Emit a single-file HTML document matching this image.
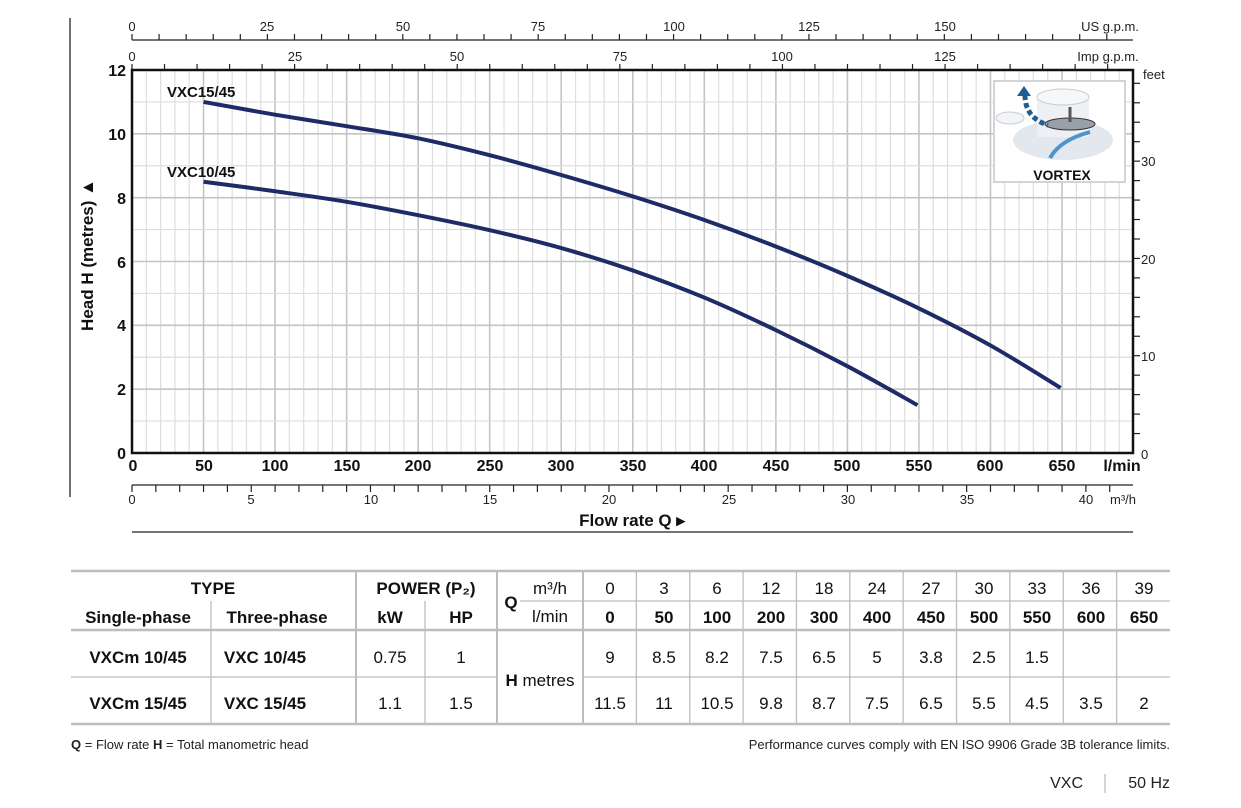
<!DOCTYPE html>
<html><head><meta charset="utf-8"><style>
html,body{margin:0;padding:0;background:#fff;}
svg{display:block;font-family:"Liberation Sans",sans-serif;}
</style></head><body>
<svg id="s" width="1241" height="808" viewBox="0 0 1241 808" xmlns="http://www.w3.org/2000/svg">
<g id="grid"></g>
<g id="ticks" stroke="#222" stroke-width="1.2"></g>
<rect x="132" y="70" width="1001" height="383" fill="none" stroke="#111" stroke-width="2.5"/>
<line x1="70" y1="18" x2="70" y2="497" stroke="#222" stroke-width="1.3"/>
<line x1="132" y1="40" x2="1133" y2="40" stroke="#222" stroke-width="1.2"/>
<line x1="132" y1="485" x2="1133" y2="485" stroke="#222" stroke-width="1.2"/>
<line x1="132" y1="532" x2="1133" y2="532" stroke="#222" stroke-width="1.3"/>
<rect x="994" y="81" width="131" height="101" fill="#fff" stroke="#d4d4d4" stroke-width="2"/>
<ellipse cx="1063" cy="140" rx="50" ry="20" fill="#e3e8ee"/>
<rect x="1037" y="97" width="52" height="40" fill="#edf1f5"/>
<ellipse cx="1063" cy="97" rx="26" ry="8" fill="#f5f7f9" stroke="#c8ced6"/>
<ellipse cx="1010" cy="118" rx="14" ry="6" fill="#f2f4f7" stroke="#c8ced6"/>
<ellipse cx="1070" cy="124" rx="25" ry="6" fill="#9aa0a8" stroke="#333"/>
<line x1="1070" y1="107" x2="1070" y2="122" stroke="#555" stroke-width="3"/>
<path d="M1050 158 Q1060 140 1090 132" fill="none" stroke="#4b94cc" stroke-width="4"/>
<path d="M1025 95 Q1025 118 1048 125" fill="none" stroke="#1d5d92" stroke-width="5" stroke-dasharray="5 3"/>
<path d="M1017 96 L1024 86 L1031 96 Z" fill="#1d5d92"/>
<text x="1062" y="180" text-anchor="middle" font-weight="bold" font-size="14" fill="#111">VORTEX</text>
<path id="c1" fill="none" stroke="#1e2b66" stroke-width="4"/>
<path id="c2" fill="none" stroke="#1e2b66" stroke-width="4"/>
<g font-weight="bold" font-size="15" fill="#111">
<text x="167" y="97">VXC15/45</text>
<text x="167" y="177">VXC10/45</text>
</g>
<g font-weight="bold" font-size="16" fill="#111" text-anchor="end">
<text x="126" y="76">12</text><text x="126" y="140">10</text><text x="126" y="204">8</text>
<text x="126" y="268">6</text><text x="126" y="331">4</text><text x="126" y="395">2</text><text x="126" y="459">0</text>
</g>
<text transform="translate(93,255) rotate(-90)" text-anchor="middle" font-weight="bold" font-size="17" fill="#111">Head H (metres) ▲</text>
<g font-weight="bold" font-size="16" fill="#111" text-anchor="middle">
<text x="133" y="471">0</text><text x="204" y="471">50</text><text x="275" y="471">100</text>
<text x="347" y="471">150</text><text x="418" y="471">200</text><text x="490" y="471">250</text>
<text x="561" y="471">300</text><text x="633" y="471">350</text><text x="704" y="471">400</text>
<text x="776" y="471">450</text><text x="847" y="471">500</text><text x="919" y="471">550</text>
<text x="990" y="471">600</text><text x="1062" y="471">650</text><text x="1122" y="471">l/min</text>
</g>
<g font-size="13" fill="#222" text-anchor="middle">
<text x="132" y="504">0</text><text x="251" y="504">5</text><text x="371" y="504">10</text>
<text x="490" y="504">15</text><text x="609" y="504">20</text><text x="729" y="504">25</text>
<text x="848" y="504">30</text><text x="967" y="504">35</text><text x="1086" y="504">40</text>
<text x="1123" y="504">m³/h</text>
</g>
<text x="632" y="526" text-anchor="middle" font-weight="bold" font-size="17" fill="#111">Flow rate Q ▸</text>
<g font-size="13" fill="#222" text-anchor="middle">
<text x="132" y="31">0</text><text x="267" y="31">25</text><text x="403" y="31">50</text>
<text x="538" y="31">75</text><text x="674" y="31">100</text><text x="809" y="31">125</text>
<text x="945" y="31">150</text><text x="1110" y="31">US g.p.m.</text>
<text x="132" y="61">0</text><text x="295" y="61">25</text><text x="457" y="61">50</text>
<text x="620" y="61">75</text><text x="782" y="61">100</text><text x="945" y="61">125</text>
<text x="1108" y="61">Imp g.p.m.</text>
<text x="1143" y="79" text-anchor="start">feet</text>
</g>
<g font-size="13" fill="#222">
<text x="1141" y="459">0</text><text x="1141" y="361">10</text><text x="1141" y="264">20</text><text x="1141" y="166">30</text>
</g>
<g stroke="#bdbdbd" stroke-width="1.3">
<line x1="71" y1="571" x2="1170" y2="571" stroke-width="2.5"/>
<line x1="71" y1="630" x2="1170" y2="630" stroke-width="2.5"/>
<line x1="71" y1="677" x2="497" y2="677"/>
<line x1="583" y1="677" x2="1170" y2="677"/>
<line x1="71" y1="724" x2="1170" y2="724" stroke-width="2.5"/>
<line x1="520" y1="601" x2="1170" y2="601"/>
<line x1="356" y1="571" x2="356" y2="724" stroke-width="2"/>
<line x1="497" y1="571" x2="497" y2="724" stroke-width="2"/>
<line x1="211" y1="601" x2="211" y2="724"/>
<line x1="425" y1="601" x2="425" y2="724"/>
<g id="cols"></g>
</g>
<g font-size="17" fill="#111" text-anchor="middle">
<text x="213" y="594" font-weight="bold">TYPE</text>
<text x="426" y="594" font-weight="bold">POWER (P₂)</text>
<text x="138" y="623" font-weight="bold">Single-phase</text>
<text x="277" y="623" font-weight="bold">Three-phase</text>
<text x="390" y="623" font-weight="bold">kW</text>
<text x="461" y="623" font-weight="bold">HP</text>
<text x="138" y="663" font-weight="bold">VXCm 10/45</text>
<text x="265" y="663" font-weight="bold">VXC 10/45</text>
<text x="390" y="663">0.75</text><text x="461" y="663">1</text>
<text x="138" y="709" font-weight="bold">VXCm 15/45</text>
<text x="265" y="709" font-weight="bold">VXC 15/45</text>
<text x="390" y="709">1.1</text><text x="461" y="709">1.5</text>
<text x="511" y="608" font-weight="bold">Q</text>
<text x="550" y="594">m³/h</text><text x="550" y="622">l/min</text>
<text x="540" y="686"><tspan font-weight="bold">H</tspan> metres</text>
</g>
<g font-size="17" fill="#111" text-anchor="middle">
<text x="610" y="594">0</text><text x="664" y="594">3</text><text x="717" y="594">6</text><text x="771" y="594">12</text><text x="824" y="594">18</text><text x="877" y="594">24</text><text x="931" y="594">27</text><text x="984" y="594">30</text><text x="1037" y="594">33</text><text x="1091" y="594">36</text><text x="1144" y="594">39</text>
<g font-weight="bold"><text x="610" y="623">0</text><text x="664" y="623">50</text><text x="717" y="623">100</text><text x="771" y="623">200</text><text x="824" y="623">300</text><text x="877" y="623">400</text><text x="931" y="623">450</text><text x="984" y="623">500</text><text x="1037" y="623">550</text><text x="1091" y="623">600</text><text x="1144" y="623">650</text></g>
<text x="610" y="663">9</text><text x="664" y="663">8.5</text><text x="717" y="663">8.2</text><text x="771" y="663">7.5</text><text x="824" y="663">6.5</text><text x="877" y="663">5</text><text x="931" y="663">3.8</text><text x="984" y="663">2.5</text><text x="1037" y="663">1.5</text>
<text x="610" y="709">11.5</text><text x="664" y="709">11</text><text x="717" y="709">10.5</text><text x="771" y="709">9.8</text><text x="824" y="709">8.7</text><text x="877" y="709">7.5</text><text x="931" y="709">6.5</text><text x="984" y="709">5.5</text><text x="1037" y="709">4.5</text><text x="1091" y="709">3.5</text><text x="1144" y="709">2</text>
</g>
<g font-size="13" fill="#222">
<text x="71" y="749"><tspan font-weight="bold">Q</tspan> = Flow rate  <tspan font-weight="bold">H</tspan> = Total manometric head</text>
<text x="1170" y="749" text-anchor="end">Performance curves comply with EN ISO 9906 Grade 3B tolerance limits.</text>
</g>
<g font-size="16" fill="#222">
<text x="1083" y="788" text-anchor="end">VXC</text>
<text x="1170" y="788" text-anchor="end">50 Hz</text>
</g>
<line x1="1105" y1="774" x2="1105" y2="793" stroke="#aaa" stroke-width="1"/>
</svg>
<script>
var NS="http://www.w3.org/2000/svg";
function L(g,x1,y1,x2,y2,c,w){var l=document.createElementNS(NS,"line");l.setAttribute("x1",x1);l.setAttribute("y1",y1);l.setAttribute("x2",x2);l.setAttribute("y2",y2);if(c)l.setAttribute("stroke",c);if(w)l.setAttribute("stroke-width",w);g.appendChild(l);}
var X=function(q){return 132+q*1.4308},Y=function(h){return 453-h*31.917};
var g=document.getElementById("grid"),t=document.getElementById("ticks");
for(var q=10;q<700;q+=10){L(g,X(q),70,X(q),453,q%50==0?"#c4c4c4":"#dedede",q%50==0?1.6:1.2);}
for(var h=1;h<12;h++){L(g,132,Y(h),1133,Y(h),h%2==0?"#c4c4c4":"#dedede",h%2==0?1.6:1.2);}
for(var u=0;u*3.785*1.4308<1001;u+=5){var x=132+u*3.785*1.4308;L(t,x,40,x,34);}
for(var u=0;u*4.546*1.4308<1001;u+=5){var x=132+u*4.546*1.4308;L(t,x,70,x,64);}
for(var m=0;m<=41;m++){var x=132+m*16.667*1.4308;if(x<=1134)L(t,x,485,x,492);}
for(var f=2;f<=38;f+=2){var y=453-f*0.3048*31.917;L(t,1133,y,1140,y);}
var cols=document.getElementById("cols");
for(var i=0;i<11;i++){var x=583+i*53.36;L(cols,x,571,x,724,i==0?"#bdbdbd":null,i==0?2:null);}
function path(pts){pts=pts.map(function(p){return[X(p[0]),Y(p[1])]});var d="M"+pts[0][0]+" "+pts[0][1];
for(var i=0;i<pts.length-1;i++){var p0=pts[i-1]||pts[i],p1=pts[i],p2=pts[i+1],p3=pts[i+2]||p2;
d+=" C"+(p1[0]+(p2[0]-p0[0])/6)+" "+(p1[1]+(p2[1]-p0[1])/6)+" "+(p2[0]-(p3[0]-p1[0])/6)+" "+(p2[1]-(p3[1]-p1[1])/6)+" "+p2[0]+" "+p2[1];}return d;}
document.getElementById("c1").setAttribute("d",path([[50,11],[100,10.6],[150,10.24],[200,9.86],[250,9.33],[300,8.71],[350,8.04],[400,7.3],[450,6.47],[500,5.55],[550,4.53],[600,3.37],[649,2.04]]));
document.getElementById("c2").setAttribute("d",path([[50,8.5],[100,8.2],[150,7.87],[200,7.45],[250,6.98],[300,6.42],[350,5.72],[400,4.87],[450,3.85],[500,2.72],[549,1.5]]));
</script>
</body></html>
